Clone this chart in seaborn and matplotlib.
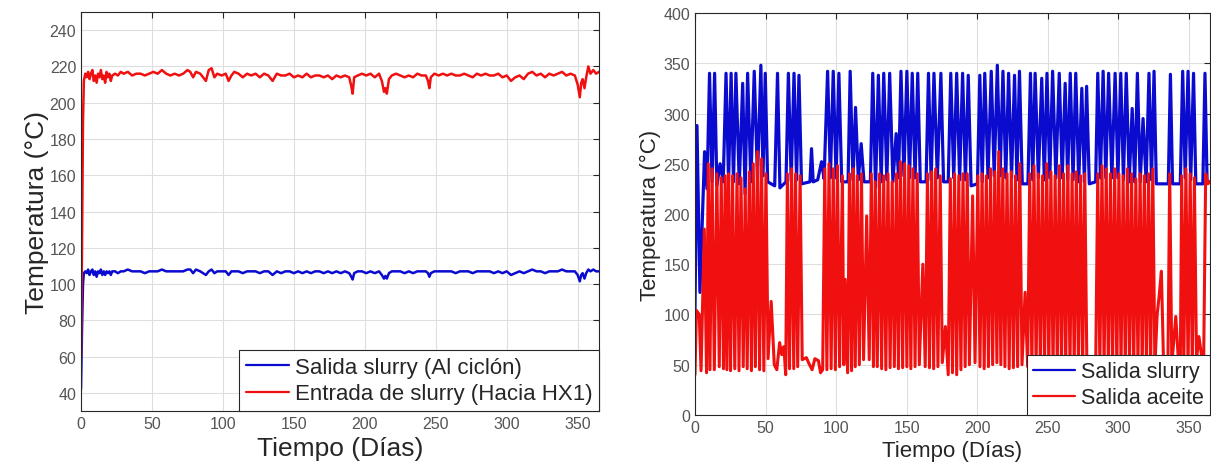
import numpy as np
import pandas as pd
import matplotlib
matplotlib.use('Agg')
import matplotlib.pyplot as plt
import seaborn as sns

# --- Panel izquierdo: temperaturas del slurry ---
dias_izq = [
    0, 0.7, 1.4, 2, 3, 4, 5, 6, 7, 8,
    9, 10, 11, 12, 13, 14, 15, 16, 17, 18,
    19, 20, 21, 22, 24, 26, 28, 30, 33, 36,
    39, 42, 45, 48, 51, 54, 57, 60, 63, 66,
    69, 72, 75, 77, 79, 81, 84, 86, 88, 90,
    92, 94, 96, 99, 102, 104, 106, 108, 111, 114,
    117, 120, 123, 126, 129, 132, 135, 138, 141, 144,
    147, 150, 153, 156, 159, 162, 165, 168, 171, 174,
    177, 180, 183, 186, 189, 190.5, 191.4, 192.5, 195, 198,
    201, 204, 207, 210, 212, 213.5, 214.5, 215.5, 217, 219,
    222, 225, 228, 231, 234, 237, 240, 243, 244.5, 245.5,
    246.5, 249, 252, 255, 258, 261, 264, 267, 270, 273,
    276, 279, 282, 285, 288, 291, 294, 297, 300, 303,
    306, 309, 312, 315, 318, 321, 324, 327, 330, 333,
    336, 339, 342, 345, 348, 350, 351.5, 352.5, 353.5, 354.8,
    356, 357.5, 359, 361, 363, 365,
]
entrada_slurry = [
    60, 120, 190, 212, 216, 214, 217, 213, 216, 218,
    212, 215, 211, 216, 214, 218, 213, 215, 211, 217,
    214, 216, 212, 215, 216, 215, 217, 216, 217, 215,
    216, 216, 215, 216, 217, 216, 218, 216, 215, 216,
    215, 216, 218, 217, 214, 217, 216, 214, 212, 218,
    219, 214, 216, 215, 216, 212, 215, 217, 216, 214,
    216, 215, 216, 214, 216, 215, 212, 216, 215, 215,
    216, 214, 215, 214, 216, 214, 215, 215, 214, 215,
    213, 215, 214, 215, 214, 209, 205, 214, 215, 216,
    215, 216, 214, 216, 212, 206, 208, 205, 213, 215,
    216, 215, 214, 215, 214, 216, 215, 215, 212, 208,
    214, 216, 215, 216, 215, 216, 215, 215, 216, 215,
    214, 216, 215, 216, 215, 215, 216, 214, 215, 212,
    214, 215, 213, 216, 217, 215, 216, 214, 216, 215,
    216, 217, 215, 216, 215, 210, 203, 211, 213, 208,
    214, 220, 216, 218, 216, 217,
]
salida_slurry_ciclon = [
    42, 75, 100, 106, 107, 106, 108, 105, 107, 108,
    105, 107, 104, 107, 106, 108, 105, 107, 105, 107,
    106, 107, 105, 107, 107, 106, 107, 107, 108, 107,
    107, 107, 106, 107, 107, 107, 108, 107, 107, 107,
    107, 107, 108, 108, 106, 108, 107, 106, 105, 107,
    108, 106, 107, 107, 107, 105, 107, 107, 107, 106,
    107, 107, 107, 106, 107, 107, 105, 107, 106, 107,
    107, 106, 107, 106, 107, 106, 107, 107, 106, 107,
    106, 107, 106, 107, 106, 104, 102.5, 106, 107, 107,
    106, 107, 106, 107, 105, 103, 104.5, 103, 106, 107,
    107, 107, 106, 107, 106, 107, 107, 107, 106, 104,
    106, 107, 107, 107, 107, 107, 106, 107, 107, 107,
    106, 107, 107, 107, 107, 106, 107, 106, 107, 105,
    106, 107, 106, 107, 108, 107, 107, 106, 107, 107,
    107, 108, 107, 107, 107, 105, 101.5, 105, 106, 103,
    106, 108, 107, 108, 107, 107,
]

# --- Panel derecho: salida slurry / salida aceite ---
dias_slurry = [
    0, 1.4, 3.5, 6.8, 8.5, 10.3, 12.1, 13.9, 15.5, 17.8,
    20, 22, 23.8, 25.6, 27.3, 29, 31.4, 33.8, 35.5, 37.3,
    39.6, 42, 44.3, 46.7, 48.2, 49.8, 51.5, 56.5, 58.5, 60.2,
    64.5, 66.2, 68.2, 70.2, 72, 73.7, 75.5, 81.5, 82.6, 83.8,
    87, 89.7, 91.5, 94, 96, 98, 100, 102, 104, 108.5,
    110, 112, 113.8, 115.8, 117.8, 119.8, 124.3, 126, 128, 130,
    132, 133.8, 136, 138, 140.3, 142.6, 144.3, 146, 148.1, 150.2,
    152.1, 154, 156, 157.9, 159.7, 163.8, 165.5, 167.4, 169.4, 171.8,
    174.3, 176.2, 179.5, 181.3, 183.4, 185.5, 187.6, 189.7, 191.7, 193.7,
    195.7, 200.2, 201.9, 203.6, 205.4, 207.7, 210, 212.1, 214.3, 216.3,
    218.3, 220.3, 222.3, 224.4, 226.5, 228.2, 230, 232, 236, 237.8,
    239.4, 241.1, 243.4, 245.8, 247.6, 249.5, 251.5, 253.5, 255.8, 258.2,
    260.3, 262.4, 264.2, 266, 268, 269.9, 272, 274.2, 276, 277.6,
    279.5, 284, 285.5, 287.4, 289.3, 291.2, 293.2, 295.5, 297.8, 299.8,
    301.8, 303.7, 305.7, 307.8, 309.9, 311.7, 313.6, 315.6, 317.6, 319.8,
    321.8, 323.6, 325.4, 327, 335.5, 337, 338.5, 344, 345.7, 347.5,
    349.5, 351.4, 353.4, 355, 360, 361.5, 363, 365,
]
salida_slurry = [
    105, 288, 122, 262, 225, 340, 232, 340, 228, 250,
    232, 340, 232, 340, 232, 340, 230, 330, 220, 340,
    232, 342, 236, 348, 238, 340, 232, 228, 340, 226,
    232, 340, 233, 340, 234, 338, 230, 232, 265, 232,
    234, 252, 235, 342, 236, 342, 236, 340, 232, 232,
    342, 234, 306, 234, 270, 232, 232, 340, 226, 338,
    232, 340, 234, 340, 232, 280, 236, 342, 238, 342,
    236, 340, 236, 340, 232, 232, 340, 234, 340, 236,
    340, 232, 232, 340, 236, 340, 234, 340, 234, 338,
    228, 230, 338, 232, 340, 236, 342, 238, 348, 238,
    342, 236, 340, 236, 338, 234, 342, 230, 230, 340,
    234, 340, 236, 335, 234, 340, 236, 342, 236, 340,
    236, 330, 234, 340, 234, 340, 232, 325, 232, 327,
    230, 232, 340, 236, 342, 236, 340, 236, 340, 236,
    340, 234, 340, 232, 305, 232, 340, 232, 295, 232,
    340, 234, 342, 230, 230, 339, 230, 230, 342, 236,
    342, 234, 340, 230, 230, 340, 232, 232,
]

dias_aceite = [
    0, 1, 3, 4.3, 6.6, 8.2, 9.4, 10.6, 12.1, 13.7,
    15.5, 17.2, 18.6, 20.2, 21.4, 22.6, 23.8, 25.2, 26.6, 28.2,
    29.8, 31.2, 32.6, 34.2, 35.6, 37, 38.5, 40, 41.3, 42.8,
    44.3, 45.8, 47.2, 48.8, 50.3, 51.8, 54, 56.2, 58, 60,
    61.5, 63, 64.3, 65.5, 67, 68.5, 70, 71.3, 72.8, 74.5,
    76, 79, 80.5, 83, 85, 87.5, 89, 90.5, 92, 93.5,
    95, 96.5, 98, 99.5, 101, 102.5, 104.5, 105.5, 106.5, 108.2,
    109.5, 111, 112.2, 113.6, 115, 116.5, 118, 119.5, 121.7, 123.5,
    125, 126.5, 127.8, 129.2, 130.8, 132.3, 133.8, 135.3, 136.8, 138.3,
    139.8, 141.3, 142.8, 144.2, 145.6, 147.2, 148.6, 150.2, 151.6, 153,
    154.5, 156, 157.5, 159, 161.5, 163.2, 164.8, 166.2, 167.8, 169.2,
    170.6, 172.2, 173.8, 175.3, 177.5, 179.5, 181, 182.5, 184, 185.5,
    187, 188.5, 190, 191.5, 193, 194.5, 196.8, 198.5, 200.5, 202,
    203.5, 205, 206.5, 208, 209.5, 211, 212.5, 214, 215.3, 216.8,
    218.2, 219.7, 221.2, 222.7, 224.2, 225.7, 227.2, 228.7, 230.2, 231.8,
    234, 235.8, 237.3, 238.8, 240.3, 241.8, 243.3, 244.8, 246.3, 247.8,
    249.3, 250.8, 252.3, 253.8, 255.3, 256.8, 258.3, 259.8, 261.3, 262.8,
    264.3, 265.8, 267.3, 268.8, 270.3, 271.8, 273.3, 274.8, 276.3, 277.8,
    279.5, 284, 285.5, 287, 288.5, 290, 291.5, 293, 294.5, 296,
    297.5, 299, 300.5, 302, 303.5, 305, 306.5, 308, 309.5, 311,
    312.5, 314, 315.5, 317, 318.5, 320, 321.5, 323, 324.5, 326,
    327.6, 329, 330.6, 332, 333.5, 335.2, 336.5, 338, 340.8, 342.5,
    344, 345, 346.5, 348, 349.5, 351, 352.5, 354, 355.5, 357.2,
    359, 360.5, 362, 363.5, 365,
]
salida_aceite = [
    40, 104, 100, 44, 185, 42, 250, 45, 245, 45,
    240, 48, 236, 46, 238, 45, 240, 44, 238, 46,
    240, 44, 236, 48, 225, 46, 242, 44, 250, 48,
    262, 45, 255, 44, 240, 56, 113, 50, 45, 72,
    60, 68, 40, 240, 46, 245, 46, 240, 48, 238,
    55, 57, 52, 45, 56, 54, 42, 45, 245, 45,
    250, 46, 245, 45, 248, 48, 238, 50, 135, 42,
    240, 44, 245, 48, 238, 50, 240, 55, 198, 55,
    240, 48, 232, 48, 240, 46, 238, 45, 240, 47,
    232, 48, 240, 46, 252, 47, 250, 48, 248, 46,
    245, 48, 240, 50, 150, 48, 240, 47, 242, 46,
    245, 48, 238, 52, 88, 40, 235, 42, 240, 40,
    238, 45, 240, 48, 240, 50, 218, 52, 238, 48,
    240, 46, 238, 48, 245, 50, 242, 52, 262, 50,
    245, 48, 240, 46, 242, 47, 238, 48, 250, 50,
    122, 48, 240, 46, 248, 46, 240, 46, 238, 48,
    250, 46, 242, 46, 238, 47, 248, 46, 240, 47,
    248, 46, 240, 48, 242, 47, 238, 48, 240, 48,
    45, 45, 240, 46, 248, 47, 245, 46, 240, 48,
    245, 46, 240, 47, 238, 48, 245, 47, 240, 46,
    235, 48, 240, 46, 238, 48, 240, 47, 245, 48,
    100, 118, 143, 60, 48, 45, 240, 50, 98, 58,
    45, 238, 48, 245, 47, 240, 48, 236, 55, 78,
    60, 45, 240, 230, 232,
]

azul = '#0b0bd0'
rojo = '#f01010'

sns.set_style('white')
plt.rcParams['font.family'] = ['Liberation Sans', 'DejaVu Sans']

fig = plt.figure(figsize=(12.11, 4.77), dpi=100)
ax1 = fig.add_axes([0.0669, 0.1363, 0.4277, 0.8364])
ax2 = fig.add_axes([0.5739, 0.128, 0.4252, 0.8426])

df_izq = pd.DataFrame({'dia': dias_izq, 'salida': salida_slurry_ciclon, 'entrada': entrada_slurry})
sns.lineplot(data=df_izq, x='dia', y='salida', ax=ax1, color=azul, lw=1.8,
             estimator=None, label='Salida slurry (Al ciclón)')
sns.lineplot(data=df_izq, x='dia', y='entrada', ax=ax1, color=rojo, lw=1.8,
             estimator=None, label='Entrada de slurry (Hacia HX1)')

df_s = pd.DataFrame({'dia': dias_slurry, 'temp': salida_slurry})
df_a = pd.DataFrame({'dia': dias_aceite, 'temp': salida_aceite})
sns.lineplot(data=df_s, x='dia', y='temp', ax=ax2, color=azul, lw=2.3,
             estimator=None, label='Salida slurry')
sns.lineplot(data=df_a, x='dia', y='temp', ax=ax2, color=rojo, lw=2.2,
             estimator=None, label='Salida aceite')

def estilo(ax, ylim, yticks, fs_lab, fs_leg):
    ax.set_xlim(0, 365)
    ax.set_ylim(*ylim)
    ax.set_xticks(range(0, 351, 50))
    ax.set_yticks(yticks)
    ax.grid(True, color='#dedede', lw=0.8)
    ax.set_axisbelow(True)
    for s in ax.spines.values():
        s.set_color('#262626')
        s.set_linewidth(0.8)
    ax.tick_params(direction='in', top=True, right=True, length=4,
                   colors='#262626', labelcolor='#555555', labelsize=11.5)
    ax.set_xlabel('Tiempo (Días)', fontsize=fs_lab, color='#262626')
    ax.set_ylabel('Temperatura (°C)', fontsize=fs_lab, color='#262626')
    leg = ax.legend(loc='lower right', borderaxespad=0, fontsize=fs_leg,
                    fancybox=False, framealpha=1, edgecolor='#262626',
                    handlelength=1.95, handletextpad=0.25, borderpad=0.3,
                    labelspacing=0.25)
    leg.get_frame().set_linewidth(0.8)
    for h in leg.get_lines():
        h.set_linewidth(1.6)

estilo(ax1, (30, 250), range(40, 241, 20), 19, 16)
estilo(ax2, (0, 400), range(0, 401, 50), 16, 15.5)
ax1.yaxis.labelpad = 0
ax2.yaxis.labelpad = 2

fig.savefig('out.png', dpi=100)
